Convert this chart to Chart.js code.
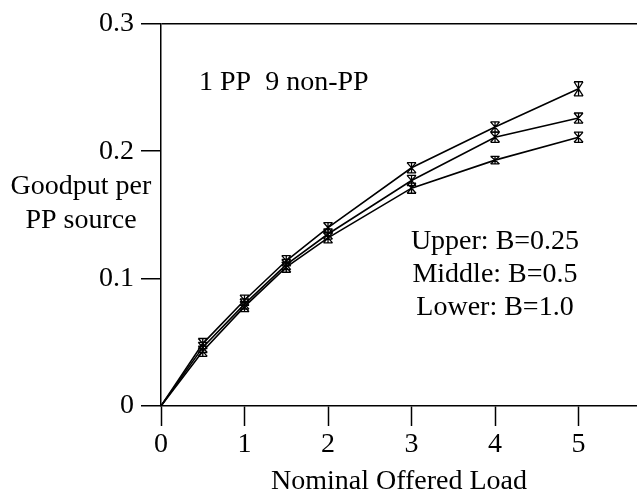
<!DOCTYPE html>
<html>
<head>
<meta charset="utf-8">
<script src="https://cdn.jsdelivr.net/npm/chart.js@4.4.1/dist/chart.umd.min.js"></script>
<style>
body { margin: 0; background: #fff; }
</style>
</head>
<body>
<canvas id="myChart" width="637" height="499"></canvas>
<script>
// offered load (x) and goodput per PP source for the three B settings
const loads = [0, 0.5, 1, 1.5, 2, 3, 4, 5];
const upperData = [0, 0.049, 0.083, 0.114, 0.140, 0.187, 0.219, 0.249];
const middleData = [0, 0.046, 0.080, 0.111, 0.135, 0.177, 0.211, 0.226];
const lowerData = [0, 0.043, 0.078, 0.109, 0.132, 0.171, 0.193, 0.211];
// half height of the error bars
const upperErr = [0, 0.004, 0.004, 0.004, 0.004, 0.004, 0.004, 0.0055];
const middleErr = [0, 0.004, 0.004, 0.004, 0.004, 0.004, 0.004, 0.004];
const lowerErr = [0, 0.004, 0.004, 0.004, 0.004, 0.004, 0.003, 0.004];

const xTicks = [0, 1, 2, 3, 4, 5];
const yTicks = [0, 0.1, 0.2, 0.3];
const yTickLabels = ['0', '0.1', '0.2', '0.3'];
const seriesLabels = ['Upper: B=0.25', 'Middle: B=0.5', 'Lower: B=1.0'];
const noteText = '1 PP  9 non-PP';
const xTitle = 'Nominal Offered Load';
const yTitle = ['Goodput per', 'PP source'];

const FONT = "'Liberation Serif', 'Times New Roman', serif";

function points(vals) {
	var out = [];
	for (var i = 0; i < loads.length; i++) {
		out.push({ x : loads[i], y : vals[i] });
	}
	return out;
}

// hourglass shaped error bars, drawn through the scales
const errorBars = {
	id : 'errorBars',
	afterDatasetsDraw : function(chart) {
		var ctx = chart.ctx;
		var xs = chart.scales.x, ys = chart.scales.y;
		ctx.save();
		ctx.strokeStyle = '#000';
		ctx.lineWidth = 1.3;
		chart.data.datasets.forEach(function(ds) {
			ds.data.forEach(function(p, i) {
				var e = ds.errors[i];
				if (!e) return;
				var px = xs.getPixelForValue(p.x);
				var top = ys.getPixelForValue(p.y + e);
				var bot = ys.getPixelForValue(p.y - e);
				var w = 4.5;
				ctx.beginPath();
				ctx.moveTo(px - w, top); ctx.lineTo(px + w, top);
				ctx.moveTo(px - w, bot); ctx.lineTo(px + w, bot);
				ctx.moveTo(px - w, top); ctx.lineTo(px + w, bot);
				ctx.moveTo(px + w, top); ctx.lineTo(px - w, bot);
				ctx.moveTo(px, top); ctx.lineTo(px, bot);
				ctx.stroke();
			});
		});
		ctx.restore();
	}
};

// titles and notes in plain text
const labelsPlugin = {
	id : 'labelsPlugin',
	afterDraw : function(chart) {
		var ctx = chart.ctx;
		var area = chart.chartArea;
		ctx.save();
		ctx.fillStyle = '#000';
		ctx.font = '28px ' + FONT;
		ctx.textBaseline = 'middle';
		ctx.textAlign = 'center';
		ctx.fillText(yTitle[0], 81, 187);
		ctx.fillText(yTitle[1], 81, 221);
		ctx.fillText(xTitle, (area.left + area.right) / 2, 482);
		for (var i = 0; i < seriesLabels.length; i++) {
			ctx.fillText(seriesLabels[i], 495, 242 + i * 33);
		}
		ctx.textAlign = 'left';
		ctx.fillText(noteText, 199, 83);
		ctx.restore();
	}
};

var ctx = document.getElementById('myChart').getContext('2d');
var chart = new Chart(ctx, {
	type : 'line',
	data : {
		datasets : [
			{ label : seriesLabels[0], data : points(upperData), errors : upperErr },
			{ label : seriesLabels[1], data : points(middleData), errors : middleErr },
			{ label : seriesLabels[2], data : points(lowerData), errors : lowerErr }
		]
	},
	options : {
		responsive : false,
		animation : false,
		layout : { padding : { top : 23, right : 0, left : 0, bottom : 0 } },
		elements : {
			line : { borderColor : '#000', borderWidth : 1.6, tension : 0, fill : false },
			point : { radius : 0, hoverRadius : 0 }
		},
		plugins : {
			legend : { display : false },
			tooltip : { enabled : false }
		},
		scales : {
			x : {
				type : 'linear',
				min : 0,
				max : 5.7,
				afterBuildTicks : function(s) {
					s.ticks = xTicks.map(function(v) { return { value : v }; });
				},
				afterFit : function(s) { s.height = 93; },
				ticks : {
					color : '#000',
					font : { family : FONT, size : 28 },
					padding : 2,
					maxRotation : 0,
					autoSkip : false
				},
				grid : {
					drawOnChartArea : false,
					tickLength : 20,
					tickColor : '#000',
					tickWidth : 1.5
				},
				border : { color : '#000', width : 1.5 }
			},
			y : {
				min : 0,
				max : 0.3,
				afterBuildTicks : function(s) {
					s.ticks = yTicks.map(function(v) { return { value : v }; });
				},
				afterFit : function(s) { s.width = 161; },
				ticks : {
					color : '#000',
					font : { family : FONT, size : 28 },
					padding : 7,
					callback : function(v, i) { return yTickLabels[i]; }
				},
				grid : {
					color : function(c) {
						return (c.tick && c.tick.value === 0.3) ? '#000' : 'rgba(0,0,0,0)';
					},
					lineWidth : 1.5,
					tickLength : 20,
					tickColor : '#000',
					tickWidth : 1.5
				},
				border : { color : '#000', width : 1.5 }
			}
		}
	},
	plugins : [ errorBars, labelsPlugin ]
});
</script>
</body>
</html>
